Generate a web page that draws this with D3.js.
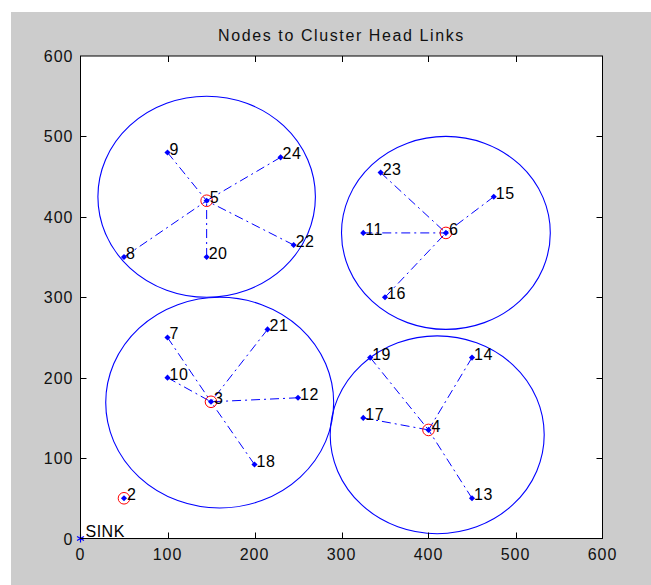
<!DOCTYPE html>
<html>
<head>
<meta charset="utf-8">
<script src="https://cdn.jsdelivr.net/npm/d3@7"></script>
<style>
  body { margin: 0; background: #ffffff; }
  text { font-family: "Liberation Sans", Arial, sans-serif; }
</style>
</head>
<body>
<div id="chart"></div>
<script>

// ordinary sensor nodes
var nodeIds  = [7, 8, 9, 10, 11, 12, 13, 14, 15, 16, 17, 18, 19, 20, 21, 22, 23, 24];
var nodeX    = [100, 50, 100, 100, 325, 250, 450, 450, 475, 350, 325, 200, 333, 145, 215, 245, 345, 230];
var nodeY    = [250, 350, 480, 200, 380, 175, 50, 225, 425, 300, 150, 92, 225, 350, 260, 365, 455, 474];
var nodeHead = [3, 5, 5, 3, 6, 3, 4, 4, 6, 6, 4, 3, 4, 5, 3, 5, 6, 5];

// cluster heads
var headIds = [2, 3, 4, 5, 6];
var headX   = [50, 150, 400, 145, 420];
var headY   = [50, 170, 135, 420, 380];

// cluster range circles
var rangeX = [145, 420, 160, 410];
var rangeY = [425, 380, 169, 129];
var rangeR = [125, 120, 131, 123];

var sink = { name: 'SINK', x: 0, y: 0 };

var xTicks = [0, 100, 200, 300, 400, 500, 600];
var yTicks = [0, 100, 200, 300, 400, 500, 600];


var chart_width  = 651;
var chart_height = 585;
var plot_left = 80.5, plot_right = 602.5, plot_top = 56, plot_bottom = 538.5;

var svg = d3.select('#chart')
  .append('svg')
  .attr('width', chart_width)
  .attr('height', chart_height);

// figure background
svg.append('rect')
  .attr('x', 11).attr('y', 12)
  .attr('width', chart_width - 11).attr('height', chart_height - 12)
  .attr('fill', '#cccccc');

svg.append('rect')
  .attr('x', plot_left).attr('y', plot_top)
  .attr('width', plot_right - plot_left).attr('height', plot_bottom - plot_top)
  .attr('fill', '#ffffff');

var x_scale = d3.scaleLinear().domain([0, 600]).range([plot_left, plot_right]);
var y_scale = d3.scaleLinear().domain([0, 600]).range([plot_bottom, plot_top]);

var headById = {};
headIds.forEach(function(id, i){ headById[id] = [headX[i], headY[i]]; });

var plot = svg.append('g');

// range circles (drawn as ellipses since the axes aren't equal)
plot.selectAll('.range')
  .data(rangeX)
  .enter()
  .append('ellipse')
  .attr('class', 'range')
  .attr('cx', function(d, i){ return x_scale(d); })
  .attr('cy', function(d, i){ return y_scale(rangeY[i]); })
  .attr('rx', function(d, i){ return x_scale(rangeR[i]) - x_scale(0); })
  .attr('ry', function(d, i){ return y_scale(0) - y_scale(rangeR[i]); })
  .attr('fill', 'none')
  .attr('stroke', '#0000ff')
  .attr('stroke-width', 1.1);

// links node -> cluster head
plot.selectAll('.link')
  .data(nodeIds)
  .enter()
  .append('line')
  .attr('class', 'link')
  .attr('x1', function(d, i){ return x_scale(nodeX[i]); })
  .attr('y1', function(d, i){ return y_scale(nodeY[i]); })
  .attr('x2', function(d, i){ return x_scale(headById[nodeHead[i]][0]); })
  .attr('y2', function(d, i){ return y_scale(headById[nodeHead[i]][1]); })
  .attr('stroke', '#0000ff')
  .attr('stroke-width', 1)
  .attr('stroke-dasharray', '9,4,2,4');

// matlab style diamond = square turned 45 degrees
var diamond = d3.symbol().type(d3.symbolSquare).size(19);

// node markers
plot.selectAll('.node')
  .data(nodeIds)
  .enter()
  .append('path')
  .attr('class', 'node')
  .attr('d', diamond)
  .attr('transform', function(d, i){
    return 'translate(' + x_scale(nodeX[i]) + ',' + y_scale(nodeY[i]) + ') rotate(45)';
  })
  .attr('fill', '#0000ff');

// head markers: red ring + blue diamond
plot.selectAll('.headring')
  .data(headIds)
  .enter()
  .append('circle')
  .attr('class', 'headring')
  .attr('cx', function(d, i){ return x_scale(headX[i]); })
  .attr('cy', function(d, i){ return y_scale(headY[i]); })
  .attr('r', 5.8)
  .attr('fill', 'none')
  .attr('stroke', '#ff0000')
  .attr('stroke-width', 1);

plot.selectAll('.head')
  .data(headIds)
  .enter()
  .append('path')
  .attr('class', 'head')
  .attr('d', diamond)
  .attr('transform', function(d, i){
    return 'translate(' + x_scale(headX[i]) + ',' + y_scale(headY[i]) + ') rotate(45)';
  })
  .attr('fill', '#0000ff');

// labels
plot.selectAll('.nlabel')
  .data(nodeIds)
  .enter()
  .append('text')
  .attr('class', 'nlabel')
  .attr('x', function(d, i){ return x_scale(nodeX[i]) + 2; })
  .attr('y', function(d, i){ return y_scale(nodeY[i]) + 2; })
  .attr('font-size', 16)
  .attr('letter-spacing', 0.5)
  .attr('fill', '#000000')
  .text(function(d){ return d; });

plot.selectAll('.hlabel')
  .data(headIds)
  .enter()
  .append('text')
  .attr('class', 'hlabel')
  .attr('x', function(d, i){ return x_scale(headX[i]) + 3; })
  .attr('y', function(d, i){ return y_scale(headY[i]) + 2; })
  .attr('font-size', 16)
  .attr('fill', '#000000')
  .text(function(d){ return d; });

// sink
plot.append('path')
  .attr('d', d3.symbol().type(d3.symbolAsterisk).size(45))
  .attr('transform', 'translate(' + x_scale(sink.x) + ',' + y_scale(sink.y) + ')')
  .attr('stroke', '#0000ff')
  .attr('stroke-width', 1.2)
  .attr('fill', 'none');

plot.append('text')
  .attr('x', x_scale(sink.x) + 5)
  .attr('y', y_scale(sink.y) - 2)
  .attr('font-size', 16)
  .attr('letter-spacing', 0.5)
  .attr('fill', '#000000')
  .text(sink.name);

// axes box, inward ticks on all sides
var axes = svg.append('g');

axes.append('rect')
  .attr('x', plot_left).attr('y', plot_top)
  .attr('width', plot_right - plot_left).attr('height', plot_bottom - plot_top)
  .attr('fill', 'none')
  .attr('stroke', '#000000')
  .attr('stroke-width', 1);

axes.selectAll('.xt')
  .data(xTicks.slice(1, -1))
  .enter()
  .append('path')
  .attr('d', function(d){
    var x = Math.round(x_scale(d)) + 0.5;
    return 'M' + x + ',' + plot_bottom + 'V' + (plot_bottom - 6) + 'M' + x + ',' + plot_top + 'V' + (plot_top + 6);
  })
  .attr('stroke', '#000000');

axes.selectAll('.yt')
  .data(yTicks.slice(1, -1))
  .enter()
  .append('path')
  .attr('d', function(d){
    var y = Math.round(y_scale(d)) + 0.5;
    return 'M' + plot_left + ',' + y + 'H' + (plot_left + 6) + 'M' + plot_right + ',' + y + 'H' + (plot_right - 6);
  })
  .attr('stroke', '#000000');

axes.selectAll('.xl')
  .data(xTicks)
  .enter()
  .append('text')
  .attr('x', function(d){ return x_scale(d); })
  .attr('y', plot_bottom + 21)
  .attr('text-anchor', 'middle')
  .attr('font-size', 16)
  .attr('letter-spacing', 1)
  .attr('fill', '#111111')
  .text(function(d){ return d; });

axes.selectAll('.yl')
  .data(yTicks)
  .enter()
  .append('text')
  .attr('x', plot_left - 7)
  .attr('y', function(d){ return y_scale(d) + 6; })
  .attr('text-anchor', 'end')
  .attr('font-size', 16)
  .attr('letter-spacing', 1)
  .attr('fill', '#111111')
  .text(function(d){ return d; });

svg.append('text')
  .attr('x', (plot_left + plot_right) / 2)
  .attr('y', 41)
  .attr('text-anchor', 'middle')
  .attr('font-size', 16)
  .attr('letter-spacing', 1.6)
  .attr('fill', '#111111')
  .text('Nodes to Cluster Head Links');

</script>
</body>
</html>
